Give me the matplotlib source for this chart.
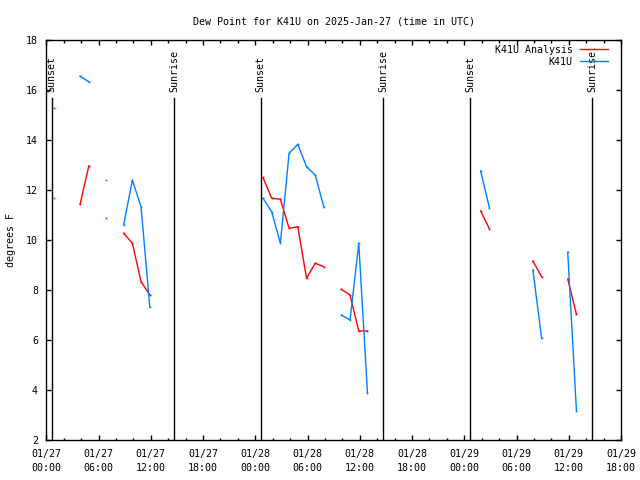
import numpy as np
import pandas as pd
import matplotlib
matplotlib.use('Agg')
import matplotlib.pyplot as plt
import matplotlib.dates as mdates
import matplotlib.transforms as mtransforms

nan = np.nan

# hourly obs (hh:53 UTC) starting 2025-01-27 00:53
analysis = [15.28, nan, nan, 11.44, 12.96, nan, 10.87, nan, 10.27, 9.87, 8.33, 7.80,
            nan, nan, nan, nan, nan, nan, nan, nan, nan, nan, nan, nan,
            12.50, 11.67, 11.63, 10.47, 10.53, 8.47, 9.07, 8.93, nan, 8.03, 7.80, 6.36,
            6.36, nan, nan, nan, nan, nan, nan, nan, nan, nan, nan, nan,
            nan, 11.16, 10.45, nan, nan, nan, nan, 9.16, 8.53, nan, nan, 8.44,
            7.03]
observed = [11.67, nan, nan, 16.55, 16.33, nan, 12.39, nan, 10.60, 12.39, 11.33, 7.33,
            nan, nan, nan, nan, nan, nan, nan, nan, nan, nan, nan, nan,
            11.67, 11.13, 9.87, 13.47, 13.83, 12.93, 12.60, 11.31, nan, 7.00, 6.80, 9.87,
            3.89, nan, nan, nan, nan, nan, nan, nan, nan, nan, nan, nan,
            nan, 12.76, 11.29, nan, nan, nan, nan, 8.80, 6.07, nan, nan, 9.51,
            3.17]
sunset = ['2025-01-27 00:37', '2025-01-28 00:38', '2025-01-29 00:39']
sunrise = ['2025-01-27 14:43', '2025-01-28 14:42', '2025-01-29 14:42']

times = pd.date_range('2025-01-27 00:53', periods=len(analysis), freq='h')

plt.rcParams['font.family'] = 'DejaVu Sans Mono'
plt.rcParams['font.size'] = 7.2

fig = plt.figure(figsize=(6.4, 4.8), dpi=100)
ax = fig.add_axes([46.3 / 640, 40 / 480, (621 - 46.3) / 640, 400 / 480])

ax.plot(times, analysis, color='#ff0000', lw=1.0, marker='s', ms=1.2, mew=0,
        label='K41U Analysis')
ax.plot(times, observed, color='#0080ff', lw=1.0, marker='s', ms=1.2, mew=0,
        label='K41U')

trans = mtransforms.blended_transform_factory(ax.transData, ax.transAxes)
for lbl, tlist in (('Sunset', sunset), ('Sunrise', sunrise)):
    for t in pd.to_datetime(tlist):
        ax.axvline(t, ymin=0, ymax=0.855, color='black', lw=1.0)
        ax.text(t, 0.871, lbl, rotation=90, ha='center', va='bottom',
                transform=trans, fontsize=7.2)

ax.set_xlim(pd.Timestamp('2025-01-27 00:00'), pd.Timestamp('2025-01-29 18:00'))
ax.set_ylim(2, 18)
ax.set_yticks(range(2, 19, 2))
ax.xaxis.set_major_locator(mdates.HourLocator(byhour=[0, 6, 12, 18]))
ax.xaxis.set_minor_locator(mdates.HourLocator(byhour=range(0, 24, 2)))
ax.xaxis.set_major_formatter(mdates.DateFormatter('%m/%d\n%H:%M'))
ax.tick_params(which='both', direction='in', top=True, right=True, width=1)
ax.tick_params(which='major', length=3.6)
ax.tick_params(which='minor', length=1.8)
ax.tick_params(axis='x', pad=6.5)
ax.tick_params(axis='y', pad=6)
for lab in ax.get_xticklabels():
    lab.set_linespacing(1.45)
for s in ax.spines.values():
    s.set_linewidth(1.0)

ax.set_ylabel('degrees F', labelpad=7, fontsize=7.2)
ax.set_title('Dew Point for K41U on 2025-Jan-27 (time in UTC)', pad=11.5,
             fontsize=7.2)

ax.legend(loc='upper right', bbox_to_anchor=(0.982, 0.995), frameon=False,
          markerfirst=False, handlelength=2.8, handletextpad=0.7,
          labelspacing=0.2, borderpad=0.3, borderaxespad=0, fontsize=7.2)

fig.savefig('out.png', dpi=100)
